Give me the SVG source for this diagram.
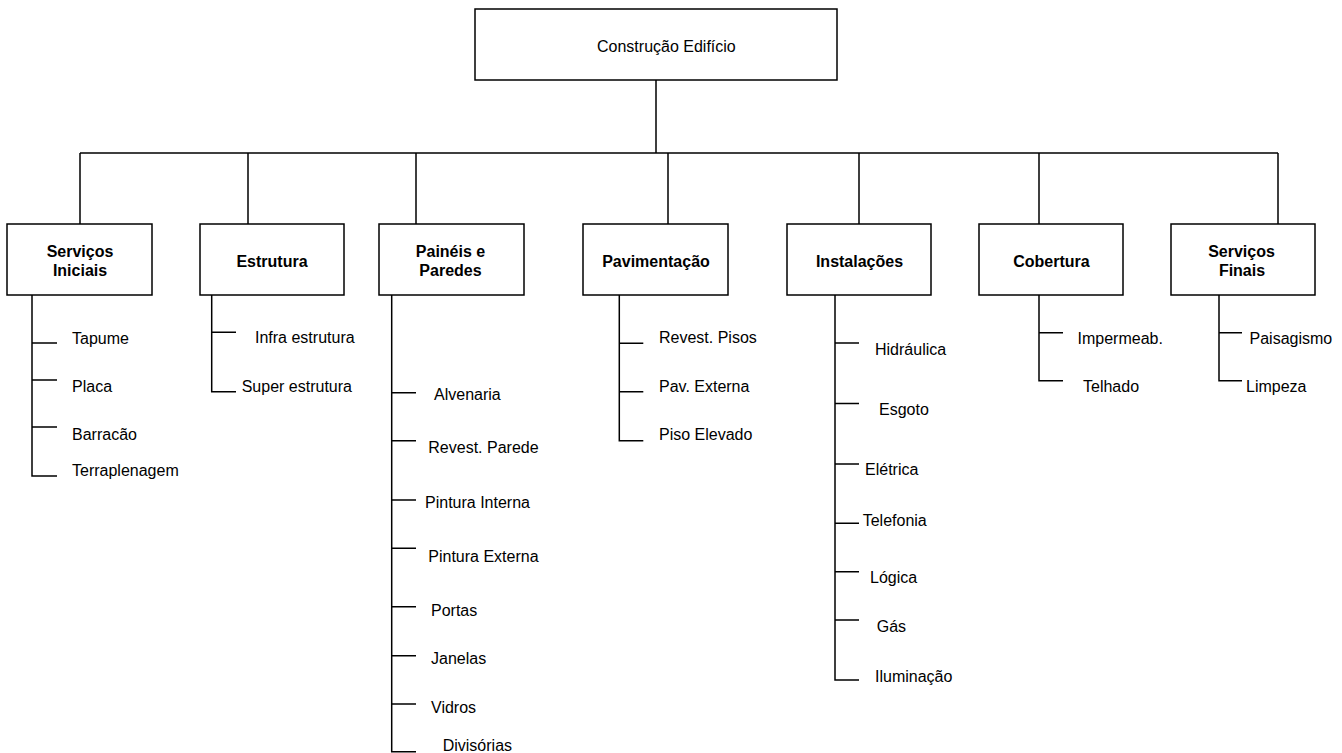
<svg xmlns="http://www.w3.org/2000/svg" width="1342" height="753" viewBox="0 0 1342 753">
<style>
.box{fill:#fff;stroke:#000;stroke-width:1.5}
.ln{fill:none;stroke:#000;stroke-width:1.5}
text{font-family:"Liberation Sans",Arial,sans-serif;font-size:16px;fill:#000}
.b{font-weight:bold;text-anchor:middle}
</style>
<rect width="1342" height="753" fill="#fff"/>
<g id="connectors">
<path class="ln" d="M656 80V153M80 153H1278M80 153V224M248 153V224M416 153V224M668 153V224M859 153V224M1039 153V224M1278 153V224"/>
<path class="ln" d="M32 295V476H57M32 343H57M32 380H57M32 427H57"/>
<path class="ln" d="M211.7 295V391.7H236M211.7 332.3H236"/>
<path class="ln" d="M391.7 295V751.7H416M391.7 392.7H416M391.7 440.7H416M391.7 500H416M391.7 548.3H416M391.7 606.7H416M391.7 655.7H416M391.7 704H416"/>
<path class="ln" d="M619.3 295V440.7H643.3M619.3 343.3H643.3M619.3 391.7H643.3"/>
<path class="ln" d="M835 295V680H859M835 343H859M835 403.5H859M835 464H859M835 523.3H859M835 571.7H859M835 620H859"/>
<path class="ln" d="M1039 295V380.7H1063M1039 332.7H1063"/>
<path class="ln" d="M1219 295V380.7H1242M1219 332.7H1242"/>
</g>
<g id="construcao-edificio"><rect class="box" x="475" y="9" width="362" height="71"/><text x="597" y="51.5">Construção Edifício</text></g>
<g id="servicos-iniciais"><rect class="box" x="7" y="224" width="145" height="71"/><text class="b" x="80" y="256.7">Serviços</text><text class="b" x="80" y="276">Iniciais</text></g>
<g id="estrutura"><rect class="box" x="200" y="224" width="144" height="71"/><text class="b" x="272" y="266.7">Estrutura</text></g>
<g id="paineis-paredes"><rect class="box" x="379" y="224" width="145" height="71"/><text class="b" x="450.5" y="256.7">Painéis e</text><text class="b" x="450.5" y="276">Paredes</text></g>
<g id="pavimentacao"><rect class="box" x="583" y="224" width="145" height="71"/><text class="b" x="656" y="266.7">Pavimentação</text></g>
<g id="instalacoes"><rect class="box" x="787" y="224" width="144" height="71"/><text class="b" x="859.5" y="266.7">Instalações</text></g>
<g id="cobertura"><rect class="box" x="979" y="224" width="144" height="71"/><text class="b" x="1051.5" y="266.7">Cobertura</text></g>
<g id="servicos-finais"><rect class="box" x="1171" y="224" width="144" height="71"/><text class="b" x="1241.5" y="256.7">Serviços</text><text class="b" x="1242" y="276">Finais</text></g>
<g id="tapume"><text x="72" y="344">Tapume</text></g>
<g id="placa"><text x="72" y="391.7">Placa</text></g>
<g id="barracao"><text x="72" y="439.5">Barracão</text></g>
<g id="terraplenagem"><text x="72" y="476">Terraplenagem</text></g>
<g id="infra-estrutura"><text x="255" y="343.3">Infra estrutura</text></g>
<g id="super-estrutura"><text x="241.7" y="391.7">Super estrutura</text></g>
<g id="alvenaria"><text x="434" y="400">Alvenaria</text></g>
<g id="revest-parede"><text x="428.3" y="453.3">Revest. Parede</text></g>
<g id="pintura-interna"><text x="425" y="508.3">Pintura Interna</text></g>
<g id="pintura-externa"><text x="428.3" y="561.7">Pintura Externa</text></g>
<g id="portas"><text x="431" y="616">Portas</text></g>
<g id="janelas"><text x="431" y="664.3">Janelas</text></g>
<g id="vidros"><text x="431" y="712.7">Vidros</text></g>
<g id="divisorias"><text x="442.7" y="751">Divisórias</text></g>
<g id="revest-pisos"><text x="659" y="343.3">Revest. Pisos</text></g>
<g id="pav-externa"><text x="659" y="391.7">Pav. Externa</text></g>
<g id="piso-elevado"><text x="659" y="440.3">Piso Elevado</text></g>
<g id="hidraulica"><text x="875" y="355">Hidráulica</text></g>
<g id="esgoto"><text x="879" y="414.5">Esgoto</text></g>
<g id="eletrica"><text x="865" y="475">Elétrica</text></g>
<g id="telefonia"><text x="862.7" y="525.5">Telefonia</text></g>
<g id="logica"><text x="870" y="583.3">Lógica</text></g>
<g id="gas"><text x="876.7" y="631.7">Gás</text></g>
<g id="iluminacao"><text x="875" y="681.7">Iluminação</text></g>
<g id="impermeab"><text x="1077.5" y="344">Impermeab.</text></g>
<g id="telhado"><text x="1083" y="391.7">Telhado</text></g>
<g id="paisagismo"><text x="1249.5" y="344">Paisagismo</text></g>
<g id="limpeza"><text x="1246" y="391.7">Limpeza</text></g>
</svg>
